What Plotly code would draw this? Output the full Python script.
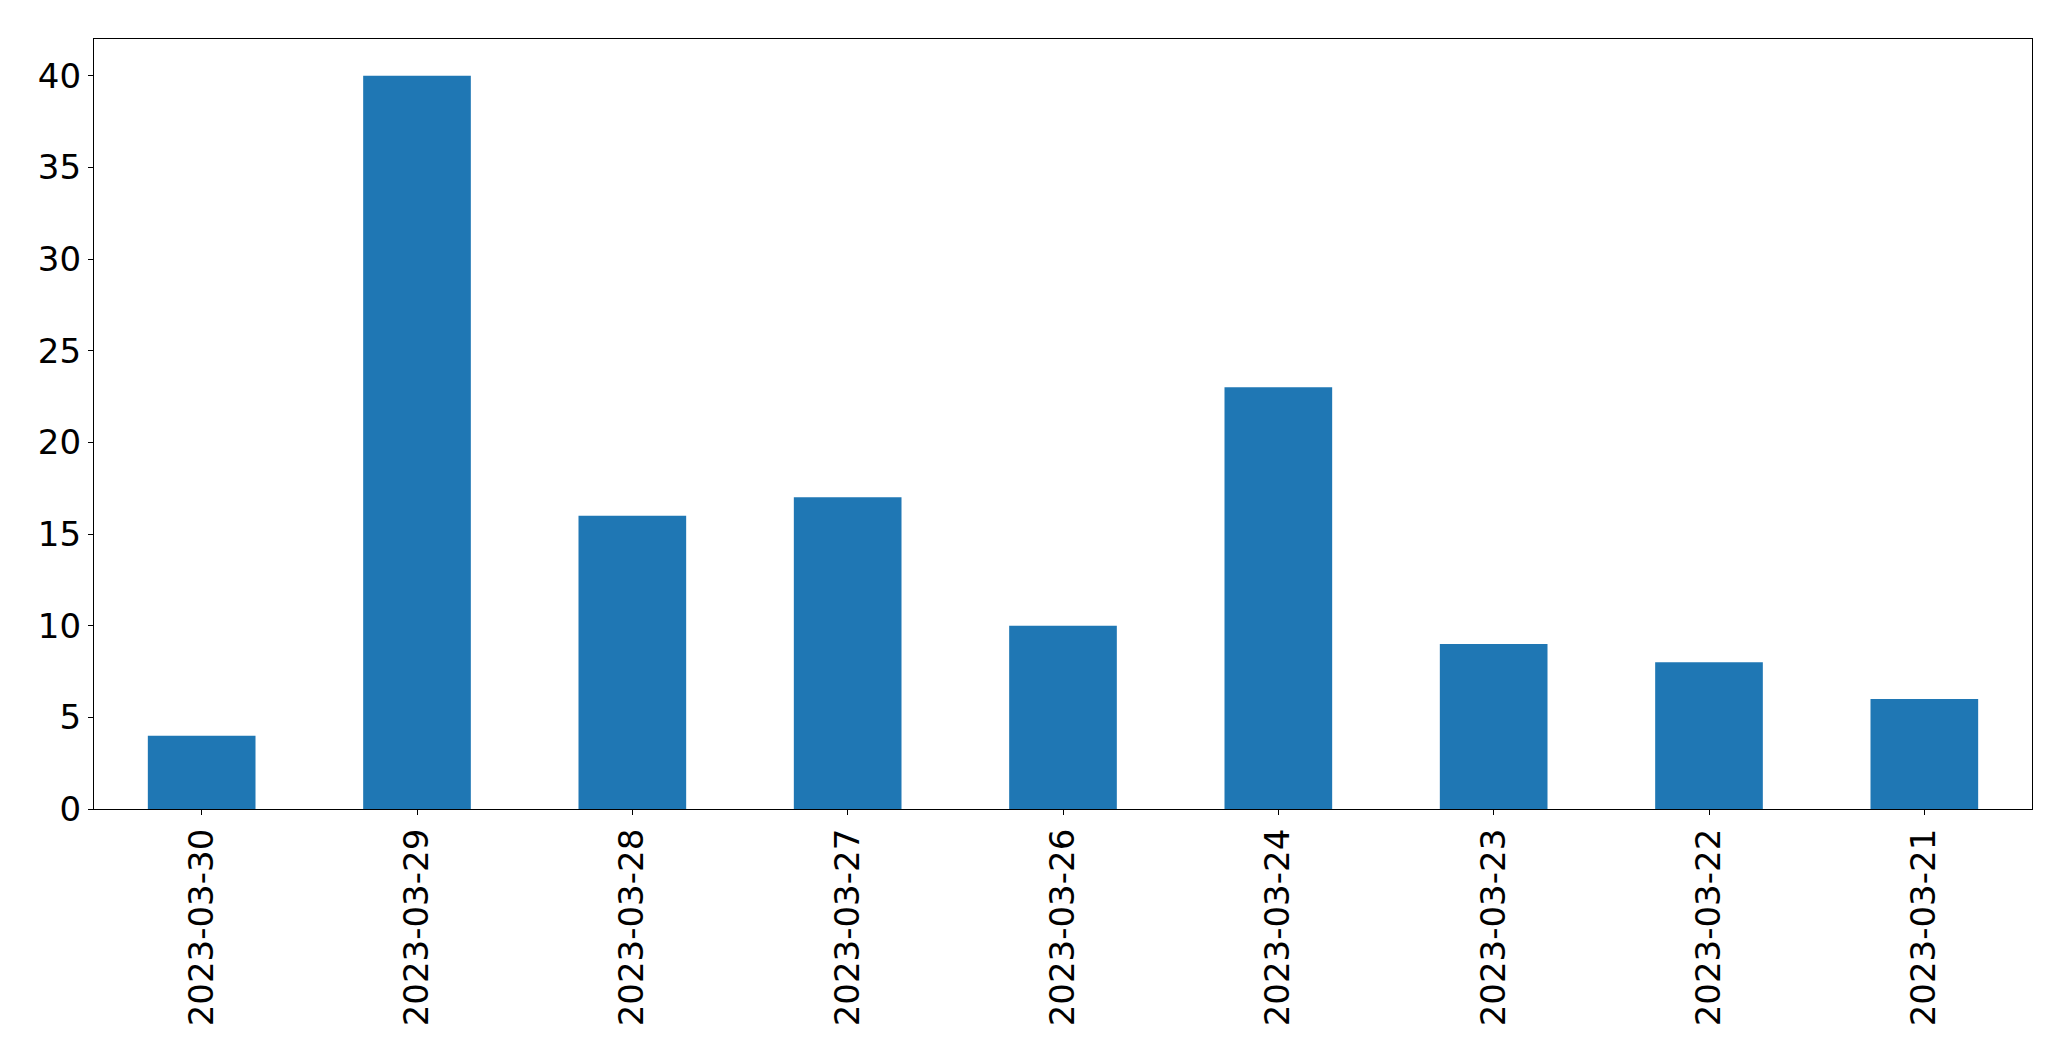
import plotly.graph_objects as go

categories = ["2023-03-30", "2023-03-29", "2023-03-28", "2023-03-27", "2023-03-26",
              "2023-03-24", "2023-03-23", "2023-03-22", "2023-03-21"]
values = [4, 40, 16, 17, 10, 23, 9, 8, 6]
y_ticks = [0, 5, 10, 15, 20, 25, 30, 35, 40]

fig = go.Figure(go.Bar(x=categories, y=values, marker_color="#1f77b4",
                       marker_line_width=0, width=0.5))

font = dict(family="DejaVu Sans", size=34, color="black")
fig.update_layout(
    width=2063, height=1053,
    margin=dict(l=86, r=39, t=31, b=252),
    paper_bgcolor="white", plot_bgcolor="white",
    font=font, showlegend=False,
    bargap=0.5,
)
fig.update_xaxes(type="category", range=[-0.5, 8.5], tickangle=-90,
                 showline=True, mirror=True, linecolor="black", linewidth=1.3,
                 ticks="outside", ticklen=5, tickwidth=1.3, tickcolor="black",
                 showgrid=False, zeroline=False, tickfont=font)
fig.update_yaxes(range=[0, 42], tickvals=y_ticks,
                 showline=True, mirror=True, linecolor="black", linewidth=1.3,
                 ticks="outside", ticklen=5, tickwidth=1.3, tickcolor="black",
                 showgrid=False, zeroline=False, tickfont=font)

fig.write_html("out.html")
